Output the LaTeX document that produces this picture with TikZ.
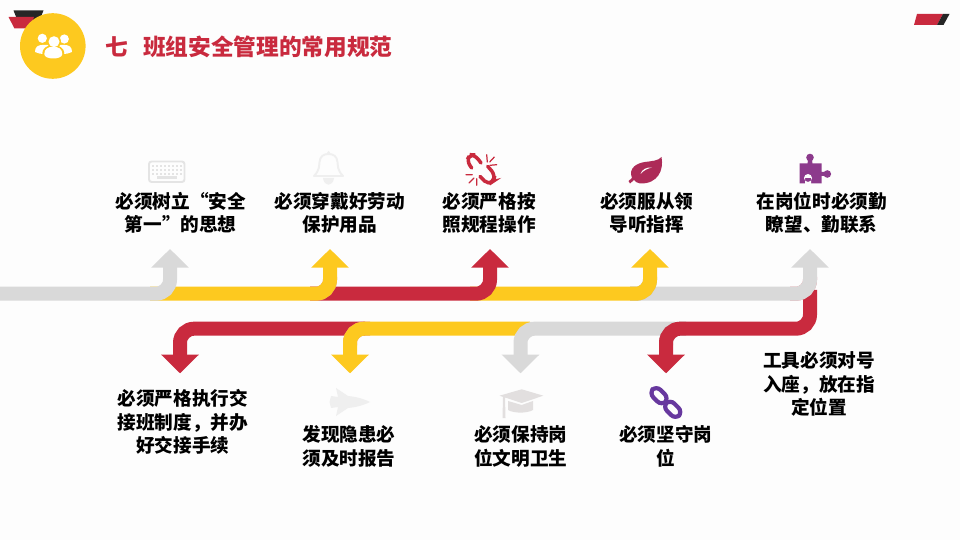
\documentclass[tikz,border=0pt]{standalone}
\usepackage{fontspec}
\usepackage{xcolor}
\usetikzlibrary{arrows.meta, calc}
\newfontfamily\cjkfont{Noto Sans CJK SC}
\definecolor{redband}{HTML}{C92A3E}
\definecolor{yellowband}{HTML}{FDC91F}
\definecolor{grayband}{HTML}{D9D9D9}
\definecolor{pinkedge}{HTML}{E58C96}
\definecolor{darkedge}{HTML}{BDBDBD}
\definecolor{pagebg}{HTML}{FDFDFD}
\definecolor{faintgray}{HTML}{EFEFEF}
\definecolor{keygray}{HTML}{E4E4E4}
\definecolor{capgray}{HTML}{E2DFDF}
\definecolor{leafred}{HTML}{AD2B58}
\definecolor{puzzlepurple}{HTML}{8C3A8C}
\definecolor{chainpurple}{HTML}{67389E}
\tikzstyle{band} = [line width=7.97pt, rounded corners=8pt, -{Triangle[length=10.6pt,width=20.8pt]}]
\tikzstyle{bandedge} = [line width=7.97pt, rounded corners=8pt]
\tikzstyle{itemtext} = [font=\cjkfont\bfseries\fontsize{10.6}{13.4}\selectfont, align=center, text=black, inner sep=0pt]
\begin{document}
\begin{tikzpicture}[x=0.02cm, y=-0.02cm]
        \useasboundingbox (0,0) rectangle (960,540);
        \fill [pagebg] (0,0) rectangle (960,540);

        % Header
        \fill [black!85] (13.5,10.5) -- (43.5,10.5) -- (38,24) -- (19,24) -- cycle;
        \fill [redband] (8.5,17) -- (34,17) -- (30,28.5) -- (14.5,28.5) -- cycle;
        \fill [yellowband] (52.8,46) circle (32.8);
        \fill [white] (42.3,38.3) circle (4.6) (64.3,39) circle (4.6);
        \fill [white] (35,52) .. controls (35,47) and (38,45) .. (42,45) -- (65,45) .. controls (69,45) and (72,47) .. (72,52) .. controls (69,53.5) and (66,54) .. (62,54) -- (45,54) .. controls (41,54) and (38,53.5) .. (35,52) -- cycle;
        \fill [yellowband] (54,41.7) circle (7) (53.3,53) ellipse (11 and 8);
        \fill [white] (54,41.7) circle (5.5);
        \fill [white] (44.3,54) .. controls (44.3,49) and (48,46.7) .. (53.3,46.7) .. controls (58.5,46.7) and (62.3,49) .. (62.3,54) .. controls (62.3,57) and (58,58.5) .. (53.3,58.5) .. controls (48.5,58.5) and (44.3,57) .. (44.3,54) -- cycle;
        \node (title) [anchor=west, inner sep=0pt, text=redband, font=\cjkfont\bfseries\fontsize{12.9}{15}\selectfont] at (105,47) {七\hspace{8.6pt}班组安全管理的常用规范};
        \fill [redband] (917,14) -- (943,14) -- (937,25) -- (914,25) -- cycle;
        \fill [black!85] (943,14) -- (949.5,14) -- (943.5,25) -- (937,25) -- cycle;

        % Band ends and tips
        \coordinate (startA) at (0,293.7);
        \coordinate (tipA) at (170,249);
        \coordinate (startB) at (150,293.7);
        \coordinate (tipB) at (330,249);
        \coordinate (startC) at (310,293.7);
        \coordinate (tipC) at (490,249);
        \coordinate (startD) at (470,293.7);
        \coordinate (tipD) at (650,249);
        \coordinate (startE) at (630,293.7);
        \coordinate (tipE) at (810,249);
        \coordinate (startF) at (810,290);
        \coordinate (midF) at (700,328.7);
        \coordinate (tipF) at (666,373.3);
        \coordinate (startG) at (675,328.7);
        \coordinate (tipG) at (520.5,373.3);
        \coordinate (startH) at (530,328.7);
        \coordinate (tipH) at (350,373.3);
        \coordinate (startI) at (365,328.7);
        \coordinate (tipI) at (180,373.3);

        % Lower bands
        \draw [band, draw=redband] (startI) -| (tipI);
        \draw [bandedge, draw=pinkedge, xshift=-1pt, yshift=0.3pt] ($(tipH)+(20,-44.6)$) -| ($(tipH)+(0,-28)$);
        \draw [band, draw=yellowband] (startH) -| (tipH);
        \draw [band, draw=grayband] (startG) -| (tipG);
        \draw [bandedge, draw=darkedge, xshift=-1pt, yshift=0.3pt] ($(tipF)+(20,-44.6)$) -| ($(tipF)+(0,-28)$);
        \draw [band, draw=redband] (startF) |- (midF) -| (tipF);

        % Upper bands
        \draw [bandedge, draw=pinkedge, xshift=1pt, yshift=-0.6pt] ($(tipE)+(-20,44.7)$) -| ($(tipE)+(0,28)$);
        \draw [band, draw=grayband] (startE) -| (tipE);
        \draw [bandedge, draw=darkedge, xshift=1pt, yshift=-0.6pt] ($(tipD)+(-20,44.7)$) -| ($(tipD)+(0,28)$);
        \draw [band, draw=yellowband] (startD) -| (tipD);
        \draw [band, draw=redband] (startC) -| (tipC);
        \draw [bandedge, draw=pinkedge, xshift=1pt, yshift=-0.6pt] ($(tipB)+(-20,44.7)$) -| ($(tipB)+(0,28)$);
        \draw [band, draw=yellowband] (startB) -| (tipB);
        \draw [band, draw=grayband] (startA) -| (tipA);

        % Labels
        \node (itemA) [itemtext] at (180.7,213) {必须树立“安全\\第一”的思想};
        \node (itemB) [itemtext] at (339.7,213) {必须穿戴好劳动\\保护用品};
        \node (itemC) [itemtext] at (489.2,213) {必须严格按\\照规程操作};
        \node (itemD) [itemtext] at (646.7,213) {必须服从领\\导听指挥};
        \node (itemE) [itemtext] at (821.7,213) {在岗位时必须勤\\瞭望、勤联系};
        \node (itemF) [itemtext] at (819,384) {工具必须对号\\入座，放在指\\定位置};
        \node (itemG) [itemtext] at (665.7,446.5) {必须坚守岗\\位};
        \node (itemH) [itemtext] at (520.7,446.5) {必须保持岗\\位文明卫生};
        \node (itemI) [itemtext] at (349,446.5) {发现隐患必\\须及时报告};
        \node (itemJ) [itemtext] at (182.7,422) {必须严格执行交\\接班制度，并办\\好交接手续};

        % Keyboard
        \draw [keygray, line width=1.1pt, rounded corners=1.5pt] (149,161.5) rectangle (184.5,182);
        \foreach \row in {166,170,174} {
            \foreach \col in {153,157,...,181} {
                \fill [keygray] (\col-1,\row-1) rectangle (\col+1,\row+1);
            }
        }
        \fill [keygray] (157,176.5) rectangle (177,179);

        % Bell
        \draw [faintgray, line width=1.1pt, line join=round] (314,176) .. controls (320,170) and (319,165) .. (319.5,162) .. controls (320,156) and (324,154) .. (328.5,154) .. controls (333,154) and (337,156) .. (337.5,162) .. controls (338,165) and (337,170) .. (343,176) -- cycle;
        \fill [faintgray] (328.5,152.5) circle (1.5) (323,178) .. controls (324,187) and (333,187) .. (334,178) -- cycle;

        % Broken link
        \begin{scope}[redband, line cap=round]
            \draw [line width=2pt, rounded corners=3pt] (481,163) -- (475,155) -- (470,154.7) -- (466.7,160.7) -- (471.7,168);
            \draw [line width=2pt, rounded corners=3pt] (487.7,166.3) -- (495,174.7) -- (493.5,181) -- (488,184.7) -- (480,176.3);
            \draw [line width=0.7pt] (486.7,154.7) -- (487.3,162) (494.3,157) -- (489.7,162) (496.7,164.7) -- (490,165.3);
            \draw [line width=0.7pt] (466,174.7) -- (472.3,174.7) (469,183) -- (474,178) (476.7,185.3) -- (476.7,178.7);
        \end{scope}

        % Leaf
        \fill [leafred] (628.5,181) -- (632,178) .. controls (628,168) and (637,163) .. (645,162) .. controls (652,161) and (658,161) .. (661.5,157) .. controls (664,170) and (658,184) .. (640,183.5) .. controls (637,183) and (635,181.5) .. (634,180) -- (630,183.5) -- cycle;
        \fill [pagebg] (640.5,174) .. controls (642,169) and (647,167) .. (652,167.5) .. controls (648,168.5) and (644,170) .. (640.5,174) -- cycle;

        % Puzzle
        \fill [puzzlepurple] (799.5,163.5) -- (807.5,163.5) -- (808,160) -- (812,160) -- (812.5,163.5) -- (821.5,163.5) -- (821.5,172) -- (825,172) -- (825,176) -- (821.5,176) -- (821.5,183.5) -- (799.5,183.5) -- cycle;
        \fill [puzzlepurple] (810,157.5) circle (3.8) (827.3,174) circle (3.8);
        \fill [pagebg] (808,178) circle (4) (805,178) rectangle (811,184);

        % Jet
        \fill [faintgray] (370,402) .. controls (362,398) and (354,396.5) .. (348,396) -- (336,388) -- (338,397) -- (331,396) -- (329.5,402) -- (331,408) -- (338,407) -- (336,416) -- (348,408) .. controls (354,407.5) and (362,406) .. (370,402) -- cycle;

        % Cap
        \fill [capgray] (499.5,395.7) -- (521.7,389.3) -- (543.3,395.7) -- (521.7,403) -- cycle;
        \fill [capgray] (508,401) -- (521.7,405) -- (533,401) -- (533,410) .. controls (527,413.5) and (514,413.5) .. (508,410) -- cycle;
        \fill [capgray] (503,397) -- (505,397) -- (505.5,418) -- (502.5,418) -- cycle;

        % Chain
        \draw [chainpurple, line width=2.4pt, rounded corners=3.5pt, rotate around={-45:(659,395.7)}] (650,390.5) rectangle (668,400.9);
        \draw [chainpurple, line width=2.4pt, rounded corners=3.5pt, rotate around={-45:(672.7,409.3)}] (663.7,404.1) rectangle (681.7,414.5);

    \end{tikzpicture}
\end{document}
